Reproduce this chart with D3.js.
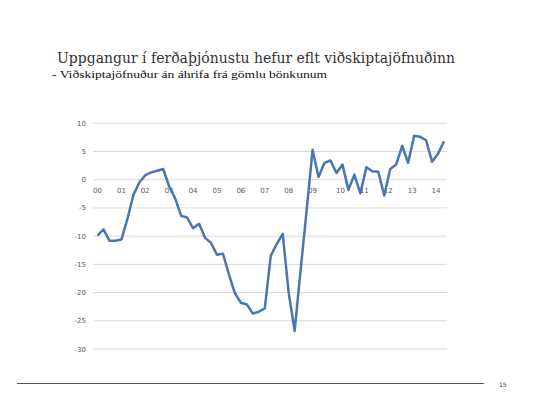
<!DOCTYPE html>
<meta charset="utf-8">
<script src="https://d3js.org/d3.v7.min.js"></script>
<style>
  body { margin: 0; background: #fff; }
</style>
<div id="my_dataviz"></div>
<script>

  // quarterly values, 2000Q1 - 2014Q3 (% of GDP)
  var values = [
    -9.9, -8.8, -10.8, -10.8, -10.6, -7.0, -2.7, -0.5,
    0.8, 1.3, 1.6, 1.9, -1.2, -3.3, -6.4, -6.7,
    -8.6, -7.8, -10.3, -11.2, -13.3, -13.1, -16.8, -20.1,
    -21.8, -22.1, -23.7, -23.4, -22.8, -13.5, -11.4, -9.6,
    -20.0, -26.8, -16.0, -5.5, 5.3, 0.5, 3.0, 3.4,
    1.2, 2.7, -1.8, 0.9, -2.4, 2.2, 1.5, 1.4,
    -2.8, 1.9, 2.7, 6.0, 3.0, 7.8, 7.6, 7.0,
    3.2, 4.6, 6.8
  ];
  var yearLabels = ["00","01","02","03","04","05","06","07","08","09","10","11","12","13","14"];
  var yTicks = [10, 5, 0, -5, -10, -15, -20, -25, -30];

  var title = "Uppgangur í ferðaþjónustu hefur eflt viðskiptajöfnuðinn";
  var subtitle = "- Viðskiptajöfnuður án áhrifa frá gömlu bönkunum";

  var width = 559, height = 394;

  var svg = d3.select("#my_dataviz")
    .append("svg")
      .attr("width", width)
      .attr("height", height);

  // scales
  var x = d3.scaleLinear()
    .domain([0, values.length - 1])
    .range([97.5, 444]);

  var y = d3.scaleLinear()
    .domain([-30, 10])
    .range([349, 123.3]);

  // titles
  svg.append("text")
    .attr("x", 57)
    .attr("y", 63)
    .attr("font-family", "DejaVu Serif")
    .attr("font-size", 14)
    .attr("textLength", 398)
    .attr("lengthAdjust", "spacingAndGlyphs")
    .attr("fill", "#333")
    .text(title);

  svg.append("text")
    .attr("x", 52)
    .attr("y", 78)
    .attr("font-family", "Liberation Serif")
    .attr("font-size", 11)
    .attr("textLength", 275)
    .attr("lengthAdjust", "spacingAndGlyphs")
    .attr("fill", "#111")
    .text(subtitle);

  // gridlines
  svg.selectAll("grid")
    .data(yTicks)
    .enter()
    .append("line")
      .attr("x1", 93)
      .attr("x2", 447)
      .attr("y1", function(d){ return y(d) })
      .attr("y2", function(d){ return y(d) })
      .attr("stroke", "#d9d9d9")
      .attr("stroke-width", 1);

  // y labels
  svg.selectAll("ylabels")
    .data(yTicks)
    .enter()
    .append("text")
      .attr("x", 86)
      .attr("y", function(d){ return y(d) + 2.5 })
      .attr("text-anchor", "end")
      .attr("font-family", "DejaVu Sans")
      .attr("font-size", 7)
      .attr("fill", "#595959")
      .text(function(d){ return d < 0 ? "-" + Math.abs(d) : d });

  // x labels (at each year's first quarter, along the zero line)
  svg.selectAll("xlabels")
    .data(yearLabels)
    .enter()
    .append("text")
      .attr("x", function(d, i){ return x(i * 4) + (i >= 10 ? 4 : 0) })
      .attr("y", y(0) + 13)
      .attr("text-anchor", "middle")
      .attr("font-family", "DejaVu Sans")
      .attr("font-size", 7)
      .attr("fill", "#595959")
      .text(function(d){ return d });

  // the line
  svg.append("path")
    .datum(values)
    .attr("fill", "none")
    .attr("stroke", "#4a76af")
    .attr("stroke-width", 2.5)
    .attr("stroke-linejoin", "round")
    .attr("d", d3.line()
      .x(function(d, i){ return x(i) })
      .y(function(d){ return y(d) }));

  // footer rule and page number
  svg.append("line")
    .attr("x1", 17)
    .attr("x2", 484)
    .attr("y1", 383.5)
    .attr("y2", 383.5)
    .attr("stroke", "#555")
    .attr("stroke-width", 1);

  svg.append("text")
    .attr("x", 499)
    .attr("y", 387)
    .attr("font-family", "DejaVu Sans")
    .attr("font-size", 6)
    .attr("fill", "#444")
    .text("15");

</script>
